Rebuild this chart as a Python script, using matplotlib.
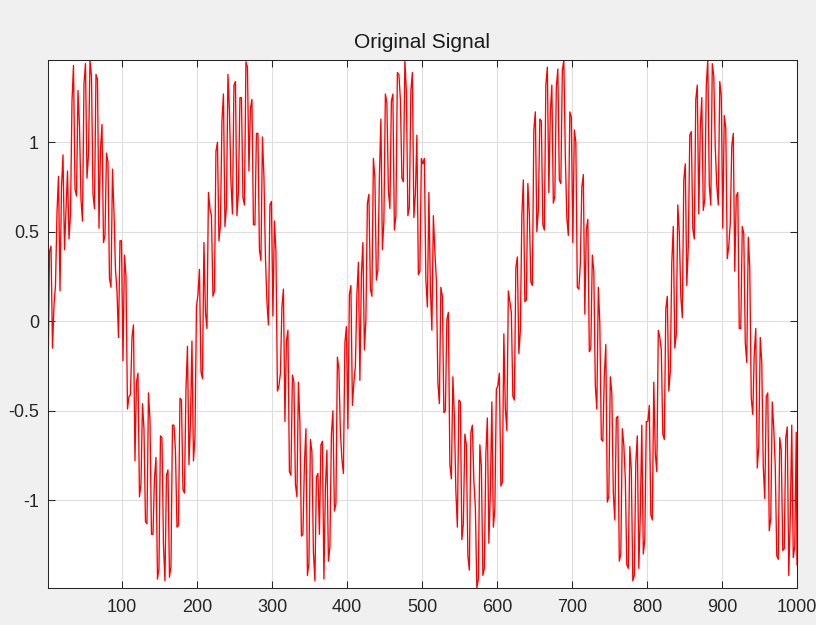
import numpy as np
import matplotlib
matplotlib.use("Agg")
import matplotlib.pyplot as plt

plt.rcParams['font.family'] = ['Liberation Sans', 'DejaVu Sans']
plt.rcParams['axes.unicode_minus'] = False

# signal, split per wave
# wave_n: samples 1, 5, 9, ...   wave_n_mid: samples 3, 7, 11, ...
wave_1 = [-0.35, 0.42, 0.09, 0.61, 0.17, 0.93, 0.62, 0.46, 1.23, 0.74,
          1.29, 0.68, 1.33, 0.80, 1.46, 0.71, 1.38, 0.52, 1.10, 0.48,
          0.89, 0.19, 0.61, 0.17, 0.45, -0.22, 0.25, -0.42, -0.09, -0.78,
          -0.29, -0.91, -0.60, -1.13, -0.55, -1.19, -0.76, -1.38, -0.65, -1.45,
          -0.83, -1.37, -0.58, -1.15, -0.43, -0.94, -0.38, -0.80, -0.11, -0.65,
          0.15, -0.28]
wave_1_mid = [0.39, -0.15, 0.20, 0.81, 0.75, 0.40, 0.84, 0.60, 1.43, 0.70,
              1.09, 0.56, 1.44, 0.93, 1.37, 0.63, 1.35, 0.96, 0.44, 0.94,
              0.24, 0.85, 0.29, -0.09, 0.45, 0.37, -0.49, -0.41, -0.02, -0.34,
              -0.98, -0.46, -1.12, -0.40, -1.19, -0.88, -1.44, -0.64, -1.25, -0.86,
              -1.43, -0.58, -0.72, -1.14, -0.44, -0.96, -0.14, -0.56, -0.78, 0.08,
              0.29, -0.32]
wave_2 = [0.44, -0.04, 0.63, 0.14, 0.95, 0.45, 1.12, 0.53, 1.38, 0.78,
          1.32, 0.59, 1.25, 0.69, 1.45, 0.84, 1.24, 0.54, 1.05, 0.34,
          0.81, 0.11, 0.65, 0.03, 0.39, -0.36, 0.08, -0.56, -0.05, -0.86,
          -0.34, -0.98, -0.57, -1.19, -0.60, -1.35, -0.73, -1.45, -0.85, -0.69,
          -1.44, -0.72, -1.26, -0.50, -1.02, -0.27, -0.77, -0.12, -0.60, 0.20,
          -0.34]
wave_2_mid = [0.05, 0.72, 0.59, 0.17, 1.00, 0.54, 1.27, 0.64, 1.18, 0.60,
              1.34, 0.72, 1.25, 0.65, 1.42, 1.19, 0.54, 1.05, 0.40, 1.03,
              0.36, -0.02, 0.67, 0.56, -0.39, -0.29, 0.18, -0.11, -0.84, -0.30,
              -0.91, -0.34, -1.20, -0.80, -1.42, -0.66, -1.29, -0.87, -1.19, -0.67,
              -0.93, -1.34, -0.63, -1.06, -0.20, -0.62, -0.85, -0.03, 0.15, -0.47,
              -0.25]
wave_3 = [0.15, -0.33, 0.44, 0.01, 0.71, 0.14, 0.80, 0.29, 1.13, 0.56,
          1.22, 0.63, 1.27, 0.59, 1.38, 0.80, 1.46, 0.59, 1.29, 0.58,
          1.04, 0.28, 0.88, 0.23, 0.72, -0.05, 0.39, -0.34, 0.19, -0.51,
          0.01, -0.80, -0.31, -0.95, -0.44, -1.22, -0.63, -1.31, -0.62, -0.89,
          -1.49, -0.69, -1.42, -0.74, -1.24, -0.45, -1.05, -0.36, -0.92, -0.07,
          -0.61, 0.11, -0.42]
wave_3_mid = [0.33, 0.26, -0.16, 0.66, 0.18, 0.91, 0.23, 0.81, 0.40, 1.27,
              0.73, 1.23, 0.51, 1.39, 1.24, 0.78, 1.28, 0.64, 1.39, 0.71,
              0.26, 0.91, 0.91, 0.08, 0.19, 0.59, 0.23, -0.46, 0.14, -0.50,
              0.05, -0.88, -0.53, -1.15, -0.45, -1.13, -0.69, -1.39, -0.58, -1.04,
              -1.44, -0.81, -1.38, -0.54, -0.95, -1.15, -0.38, -0.29, -0.90, -0.49,
              0.17, 0.05, -0.44]
wave_4 = [0.30, -0.18, 0.59, 0.11, 0.77, 0.22, 1.07, 0.50, 1.13, 0.54,
          1.32, 0.72, 1.32, 0.70, 1.41, 0.77, 1.46, 0.58, 1.17, 0.44,
          1.00, 0.18, 0.75, 0.04, 0.57, -0.15, 0.28, -0.49, -0.01, -0.67,
          -0.13, -0.98, -0.40, -1.11, -0.53, -1.30, -0.69, -1.36, -0.70, -1.45,
          -0.79, -1.38, -0.58, -1.22, -0.56, -1.08, -0.34, -0.84, -0.09, -0.63,
          0.07, -0.39]
wave_4_mid = [0.36, -0.05, 0.79, 0.12, 0.60, 0.20, 1.17, 0.62, 1.12, 0.51,
              1.42, 1.17, 0.66, 1.31, 0.79, 1.40, 0.92, 0.48, 1.14, 1.07,
              0.19, 0.32, 0.82, 0.51, -0.17, 0.37, -0.36, 0.19, -0.66, -0.30,
              -1.01, -0.31, -0.96, -0.54, -1.34, -0.60, -0.88, -1.38, -0.83, -1.42,
              -0.64, -1.08, -1.30, -0.56, -0.47, -1.11, -0.74, -0.05, -0.16, -0.66,
              0.14, -0.28]
wave_5 = [0.33, -0.15, 0.65, 0.14, 0.79, 0.20, 1.04, 0.52, 1.24, 0.60,
          1.25, 0.68, 1.46, 0.65, 1.37, 0.76, 1.34, 0.52, 1.08, 0.42,
          0.98, 0.28, 0.72, -0.04, 0.49, -0.23, 0.30, -0.52, -0.04, -0.70,
          -0.23, -0.99, -0.40, -1.10, -0.60, -1.31, -0.65, -1.28, -0.65, -1.42,
          -0.58, -1.26]
wave_5_mid = [0.53, -0.07, 0.50, 0.02, 0.88, 0.42, 1.06, 0.46, 1.32, 1.08,
              0.62, 1.32, 0.76, 1.44, 0.97, 0.65, 1.26, 1.15, 0.35, 0.55,
              1.05, 0.70, -0.04, 0.53, -0.12, 0.47, -0.43, -0.18, -0.82, -0.09,
              -0.81, -0.42, -1.17, -0.45, -0.81, -1.33, -0.72, -1.27, -0.59, -1.10,
              -1.32, -0.62]
last_value = -1.36

odd = np.array(wave_1 + wave_2 + wave_3 + wave_4 + wave_5)
mid = np.array(wave_1_mid + wave_2_mid + wave_3_mid + wave_4_mid + wave_5_mid)
signal = np.append(np.column_stack([odd, mid]).ravel(), last_value)
samples = np.append(np.arange(1, 1000, 2), 1000)

x_ticks = [100, 200, 300, 400, 500, 600, 700, 800, 900, 1000]
y_ticks = [-1, -0.5, 0, 0.5, 1]
y_labels = ['-1', '-0.5', '0', '0.5', '1']

fig = plt.figure(figsize=(8.16, 6.25), dpi=100, facecolor='#f0f0f0')
ax = fig.add_axes([48 / 816, 1 - 588 / 625, 749 / 816, 528 / 625])

ax.plot(samples, signal, color='#ff0000', linewidth=0.95)
ax.set_xlim(1, 1000)
ax.set_ylim(signal.min(), signal.max())

ax.set_xticks(x_ticks)
ax.set_yticks(y_ticks)
ax.set_yticklabels(y_labels)
ax.grid(True, color='#dedede', linewidth=0.8)
ax.set_axisbelow(True)

ax.tick_params(direction='in', length=5, width=0.75, color='#262626',
               top=True, right=True, labelsize=13, labelcolor='#262626')
ax.tick_params(axis='x', pad=8)
ax.tick_params(axis='y', pad=6.5)
for s in ax.spines.values():
    s.set_color('#262626')
    s.set_linewidth(0.75)

ax.set_title('Original Signal', fontsize=15, color='#1a1a1a', pad=9)

fig.savefig('out.png', dpi=100, facecolor=fig.get_facecolor())
